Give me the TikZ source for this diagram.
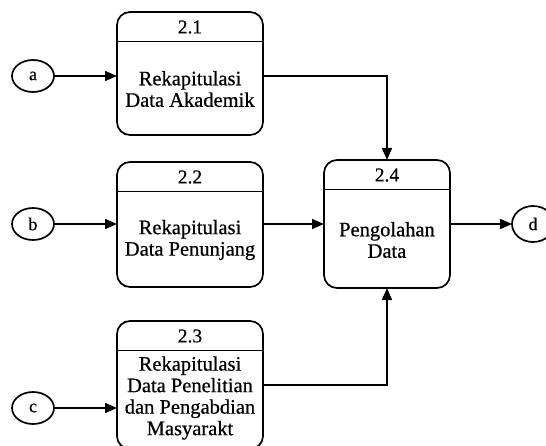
\documentclass[tikz,border=0pt]{standalone}
\usepackage{fontspec}
\setmainfont{Liberation Serif}[BoldFont=Liberation Serif,BoldFeatures={FakeBold=0.6}]
\usetikzlibrary{arrows.meta,calc,shapes.geometric}
\begin{document}
\begin{tikzpicture}[x=1pt,y=1pt,
  line width=1.7pt,
  every node/.style={inner sep=0pt,outer sep=0pt},
  proc/.style={draw,rectangle,rounded corners=13pt,minimum width=146pt},
  ext/.style={draw,ellipse,minimum width=42pt,minimum height=32pt,
    font=\bfseries\fontsize{18}{20}\selectfont},
  ttl/.style={font=\bfseries\fontsize{19.5}{20}\selectfont},
  txt/.style={align=center,font=\bfseries\fontsize{20.5}{21.5}\selectfont},
  flow/.style={-{Triangle[length=12pt,width=10pt]},line width=1.5pt},
  sep/.style={line width=1.7pt}]
\useasboundingbox (0,0) rectangle (546,445);

% process boxes
\node[proc,minimum height=123pt] (p21) at (190,371.5) {};
\node[proc,minimum height=125pt] (p22) at (190,220.5) {};
\node[proc,minimum height=128pt] (p23) at (190,60) {};
\node[proc,minimum height=128pt,minimum width=126pt] (p24) at (387,221) {};

% header separators
\foreach \p in {p21,p22,p23,p24}{
  \draw[sep] ($(\p.north west)+(0,-29.5)$) -- ($(\p.north east)+(0,-29.5)$);
}

% process numbers
\node[ttl] (n21) at ($(p21.north)+(0,-15)$) {2.1};
\node[ttl] (n22) at ($(p22.north)+(0,-15)$) {2.2};
\node[ttl] (n23) at ($(p23.north)+(0,-15)$) {2.3};
\node[ttl] (n24) at ($(p24.north)+(0,-15)$) {2.4};

% process names
\node[txt] (l21) at (190,356) {Rekapitulasi\\Data Akademik};
\node[txt] (l22) at (190,205) {Rekapitulasi\\Data Penunjang};
\node[txt] (l23) at (190,47) {Rekapitulasi\\Data Penelitian\\dan Pengabdian\\Masyarakt};
\node[txt] (l24) at (387,205) {Pengolahan\\Data};

% external entities
\node[ext] (a) at (33,369) {a};
\node[ext] (b) at (33,221) {b};
\node[ext] (c) at (33,37) {c};
\node[ext,minimum height=36pt] (d) at (533,221) {d};

% data flows
\draw[flow] (a) -- (a -| p21.west);
\draw[flow] (b) -- (b -| p22.west);
\draw[flow] (c) -- (c -| p23.west);
\draw[flow] (a -| p21.east) -| (p24.north);
\draw[flow] (p24.west -| p22.east) -- (p24.west);
\draw[flow] (p23.east) -| (p24.south);
\draw[flow] (p24.east) -- (d);
\end{tikzpicture}
\end{document}
